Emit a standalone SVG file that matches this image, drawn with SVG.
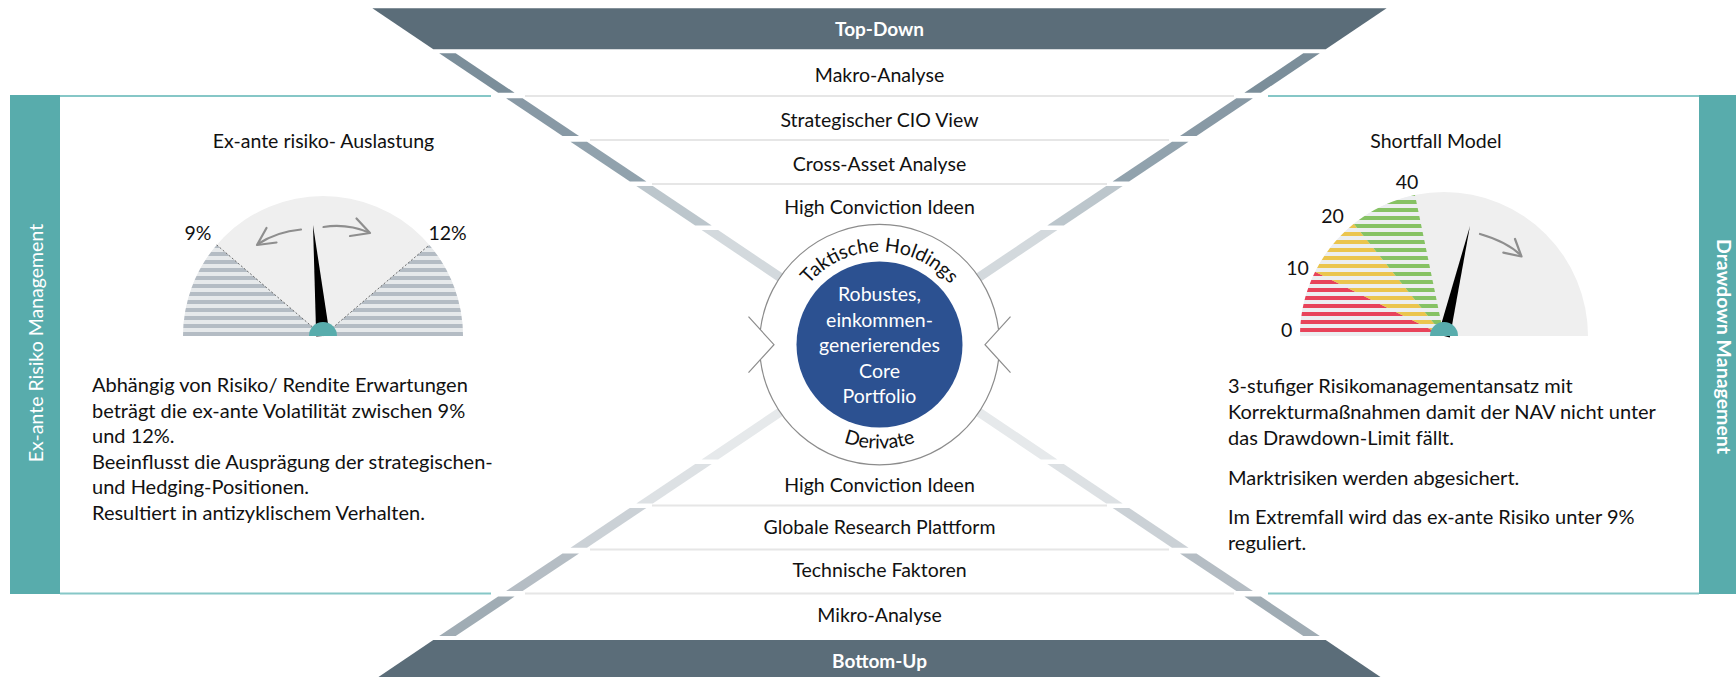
<svg xmlns="http://www.w3.org/2000/svg" width="1736" height="677" viewBox="0 0 1736 677">
<style>
.t{font-family:Lato,"Liberation Sans",sans-serif;fill:#111}
.lbl{font-size:19.5px;text-anchor:middle}
.body{font-size:20px}
.ban{font-family:Lato,"Liberation Sans",sans-serif;font-size:19px;font-weight:700;fill:#fff;text-anchor:middle}
.sep{stroke:#e6e6e6;stroke-width:2}
.tl{stroke:#86c7c7;stroke-width:2}
.arrow{fill:none;stroke:#8e8e8e;stroke-width:2.2;stroke-linecap:round;stroke-linejoin:round}
.ring{fill:none;stroke:#8c8c8c;stroke-width:1.2}
.wt{font-family:Lato,"Liberation Sans",sans-serif;fill:#fff;font-size:19.5px;text-anchor:middle}
</style>
<defs>
<pattern id="pGray" patternUnits="userSpaceOnUse" x="0" y="0" width="8" height="8"><rect width="8" height="8" fill="#e6e9eb"/><rect y="4" width="8" height="4" fill="#b4bcc4"/></pattern>
<pattern id="pRed" patternUnits="userSpaceOnUse" x="0" y="0" width="8" height="8"><rect width="8" height="8" fill="#eceef0"/><rect width="8" height="4" fill="#e8435a"/></pattern>
<pattern id="pYel" patternUnits="userSpaceOnUse" x="0" y="0" width="8" height="8"><rect width="8" height="8" fill="#eceef0"/><rect width="8" height="4" fill="#ebc54e"/></pattern>
<pattern id="pGrn" patternUnits="userSpaceOnUse" x="0" y="0" width="8" height="8"><rect width="8" height="8" fill="#eceef0"/><rect width="8" height="4" fill="#86c264"/></pattern>
<path id="arcTop" d="M 786.5 344.7 A 93 93 0 0 1 972.5 344.7"/>
<path id="arcBot" d="M 775.5 344.7 A 104 104 0 0 0 983.5 344.7"/>
</defs>
<rect width="1736" height="677" fill="#fff"/>

<g id="panel-left">
<rect x="10" y="95" width="50" height="499" fill="#58acac"/>
<line class="tl" x1="60" y1="96" x2="491" y2="96"/>
<line class="tl" x1="60" y1="593.4" x2="491" y2="593.4"/>
<text class="ban" style="font-weight:400;font-size:19.5px" transform="translate(43.3,343) rotate(-90)">Ex-ante Risiko Management</text>
<text class="t body"><tspan x="92" y="392">Abhängig von Risiko/ Rendite Erwartungen</tspan><tspan x="92" y="417.5">beträgt die ex-ante Volatilität zwischen 9%</tspan><tspan x="92" y="443">und 12%.</tspan><tspan x="92" y="468.5">Beeinflusst die Ausprägung der strategischen-</tspan><tspan x="92" y="494">und Hedging-Positionen.</tspan><tspan x="92" y="519.5">Resultiert in antizyklischem Verhalten.</tspan></text>
</g>

<g id="panel-right">
<rect x="1699" y="95" width="37" height="499" fill="#58acac"/>
<line class="tl" x1="1268" y1="96" x2="1699" y2="96"/>
<line class="tl" x1="1268" y1="593.4" x2="1699" y2="593.4"/>
<text class="ban" style="font-size:19.5px" transform="translate(1716.7,346.5) rotate(90)">Drawdown Management</text>
<text class="t body"><tspan x="1228" y="393">3-stufiger Risikomanagementansatz mit</tspan><tspan x="1228" y="419">Korrekturmaßnahmen damit der NAV nicht unter</tspan><tspan x="1228" y="445">das Drawdown-Limit fällt.</tspan><tspan x="1228" y="485">Marktrisiken werden abgesichert.</tspan><tspan x="1228" y="524">Im Extremfall wird das ex-ante Risiko unter 9%</tspan><tspan x="1228" y="550">reguliert.</tspan></text>
</g>

<g id="gauge-left">
<text class="t lbl" x="323.5" y="148">Ex-ante risiko- Auslastung</text>
<path d="M 183 336 A 140 140 0 0 1 463 336 Z" fill="#efefef"/>
<path d="M 323 336 L 183 336 A 140 140 0 0 1 216.7 244.9 Z" fill="url(#pGray)"/>
<path d="M 323 336 L 463 336 A 140 140 0 0 0 429.3 244.9 Z" fill="url(#pGray)"/>
<path d="M 216.7 244.9 L 323 336 L 429.3 244.9" fill="none" stroke="#6b6b6b" stroke-width="1" stroke-dasharray="2 2"/>
<text class="t lbl" x="198" y="240">9%</text>
<text class="t lbl" x="447.5" y="240">12%</text>
<path class="arrow" d="M 301 229.5 Q 276.7 231.7 258 244"/>
<path class="arrow" d="M 266.5 228 L 257 245 L 276.5 242.5"/>
<path class="arrow" d="M 323.5 227 Q 346.7 223.3 369 232.5"/>
<path class="arrow" d="M 356.5 218.5 L 370 233 L 350 236"/>
<polygon points="313,225 316.2,336.6 329.8,335.4" fill="#000"/>
<path d="M 309 336 A 14 14 0 0 1 337 336 Z" fill="#58acac"/>
</g>

<g id="gauge-right">
<text class="t lbl" x="1436" y="148">Shortfall Model</text>
<path d="M 1300 336 A 144 144 0 0 1 1588 336 Z" fill="#efefef"/>
<path d="M 1444 336 L 1300 336 A 144 144 0 0 1 1315.1 271.7 Z" fill="url(#pRed)"/>
<path d="M 1444 336 L 1315.1 271.7 A 144 144 0 0 1 1353.8 223.8 Z" fill="url(#pYel)"/>
<path d="M 1444 336 L 1353.8 223.8 A 144 144 0 0 1 1415 194.9 Z" fill="url(#pGrn)"/>
<text class="t lbl" x="1286.7" y="336.7">0</text>
<text class="t lbl" x="1297.5" y="275">10</text>
<text class="t lbl" x="1332.5" y="223.3">20</text>
<text class="t lbl" x="1407" y="189">40</text>
<path class="arrow" d="M 1480 234 Q 1506.7 241.7 1520.5 255"/>
<path class="arrow" d="M 1515 239 L 1521.5 256.5 L 1503.3 252.7"/>
<polygon points="1470,226 1438.2,334.6 1449.8,337.4" fill="#000"/>
<path d="M 1430 336 A 14 14 0 0 1 1458 336 Z" fill="#58acac"/>
</g>

<g id="connectors">
<polygon fill="#7b8e9a" points="439.2,53.3 455.7,53.3 514.6,92.8 498.1,92.8"/>
<polygon fill="#8899a5" points="506.1,98.3 522.6,98.3 579,136 562.5,136"/>
<polygon fill="#91a2ad" points="570.5,141.7 587,141.7 646.4,181.5 629.9,181.5"/>
<polygon fill="#bcc6cc" points="636.3,186 652.8,186 711.7,225.5 695.2,225.5"/>
<polygon fill="#d3d9dd" points="701.6,230 718.1,230 851.8,320 835.3,320"/>
<polygon fill="#7b8e9a" points="1319.8,53.3 1303.3,53.3 1244.4,92.8 1260.9,92.8"/>
<polygon fill="#8899a5" points="1252.9,98.3 1236.4,98.3 1180,136 1196.5,136"/>
<polygon fill="#91a2ad" points="1188.5,141.7 1172,141.7 1112.6,181.5 1129.1,181.5"/>
<polygon fill="#bcc6cc" points="1122.7,186 1106.2,186 1047.3,225.5 1063.8,225.5"/>
<polygon fill="#d3d9dd" points="1057.4,230 1040.9,230 907.2,320 923.7,320"/>
<polygon fill="#a0acb4" points="439.2,636.1 455.7,636.1 514.6,596.6 498.1,596.6"/>
<polygon fill="#b5bdc4" points="506.1,591.1 522.6,591.1 579,553.4 562.5,553.4"/>
<polygon fill="#cbd1d6" points="570.5,547.7 587,547.7 646.4,507.9 629.9,507.9"/>
<polygon fill="#dde1e4" points="636.3,503.4 652.8,503.4 711.7,463.9 695.2,463.9"/>
<polygon fill="#e6e9eb" points="701.6,459.4 718.1,459.4 851.8,369.4 835.3,369.4"/>
<polygon fill="#a0acb4" points="1319.8,636.1 1303.3,636.1 1244.4,596.6 1260.9,596.6"/>
<polygon fill="#b5bdc4" points="1252.9,591.1 1236.4,591.1 1180,553.4 1196.5,553.4"/>
<polygon fill="#cbd1d6" points="1188.5,547.7 1172,547.7 1112.6,507.9 1129.1,507.9"/>
<polygon fill="#dde1e4" points="1122.7,503.4 1106.2,503.4 1047.3,463.9 1063.8,463.9"/>
<polygon fill="#e6e9eb" points="1057.4,459.4 1040.9,459.4 907.2,369.4 923.7,369.4"/>
</g>

<g id="banner-top">
<polygon points="372.4,8.3 1386.6,8.3 1325.7,49.3 433.3,49.3" fill="#5b6d79"/>
<text class="ban" x="879.5" y="36">Top-Down</text>
</g>
<g id="banner-bottom">
<polygon points="433.3,640.1 1325.7,640.1 1386.6,681.1 372.4,681.1" fill="#5b6d79"/>
<text class="ban" x="879.5" y="667.5">Bottom-Up</text>
</g>

<g id="funnel-rows">
<line class="sep" x1="525" y1="96" x2="1234" y2="96"/>
<line class="sep" x1="590" y1="140" x2="1169" y2="140"/>
<line class="sep" x1="652" y1="184" x2="1107" y2="184"/>
<line class="sep" x1="652" y1="505.4" x2="1107" y2="505.4"/>
<line class="sep" x1="590" y1="549.4" x2="1169" y2="549.4"/>
<line class="sep" x1="525" y1="593.4" x2="1234" y2="593.4"/>
<text class="t lbl" x="879.5" y="81.5">Makro-Analyse</text>
<text class="t lbl" x="879.5" y="126.5">Strategischer CIO View</text>
<text class="t lbl" x="879.5" y="171">Cross-Asset Analyse</text>
<text class="t lbl" x="879.5" y="214">High Conviction Ideen</text>
<text class="t lbl" x="879.5" y="491.5">High Conviction Ideen</text>
<text class="t lbl" x="879.5" y="534">Globale Research Plattform</text>
<text class="t lbl" x="879.5" y="577">Technische Faktoren</text>
<text class="t lbl" x="879.5" y="622">Mikro-Analyse</text>
</g>

<g id="core">
<circle cx="879.5" cy="344.7" r="120" fill="#fff"/>
<path class="ring" d="M 760.4 329.8 A 120 120 0 0 1 998.6 329.8"/>
<path class="ring" d="M 760.4 359.6 A 120 120 0 0 0 998.6 359.6"/>
<path class="ring" d="M 748.5 316.7 L 774 344.7 L 748.5 372.7"/>
<path class="ring" d="M 1010.5 316.7 L 985 344.7 L 1010.5 372.7"/>
<text class="t" style="font-size:19.5px"><textPath href="#arcTop" startOffset="50%" text-anchor="middle">Taktische Holdings</textPath></text>
<text class="t" style="font-size:19.5px"><textPath href="#arcBot" startOffset="50%" text-anchor="middle">Derivate</textPath></text>
<circle cx="879.5" cy="344.5" r="83" fill="#2c5191"/>
<text class="wt"><tspan x="879.5" y="301">Robustes,</tspan><tspan x="879.5" y="326.5">einkommen-</tspan><tspan x="879.5" y="351.5">generierendes</tspan><tspan x="879.5" y="377.5">Core</tspan><tspan x="879.5" y="403">Portfolio</tspan></text>
</g>
</svg>
